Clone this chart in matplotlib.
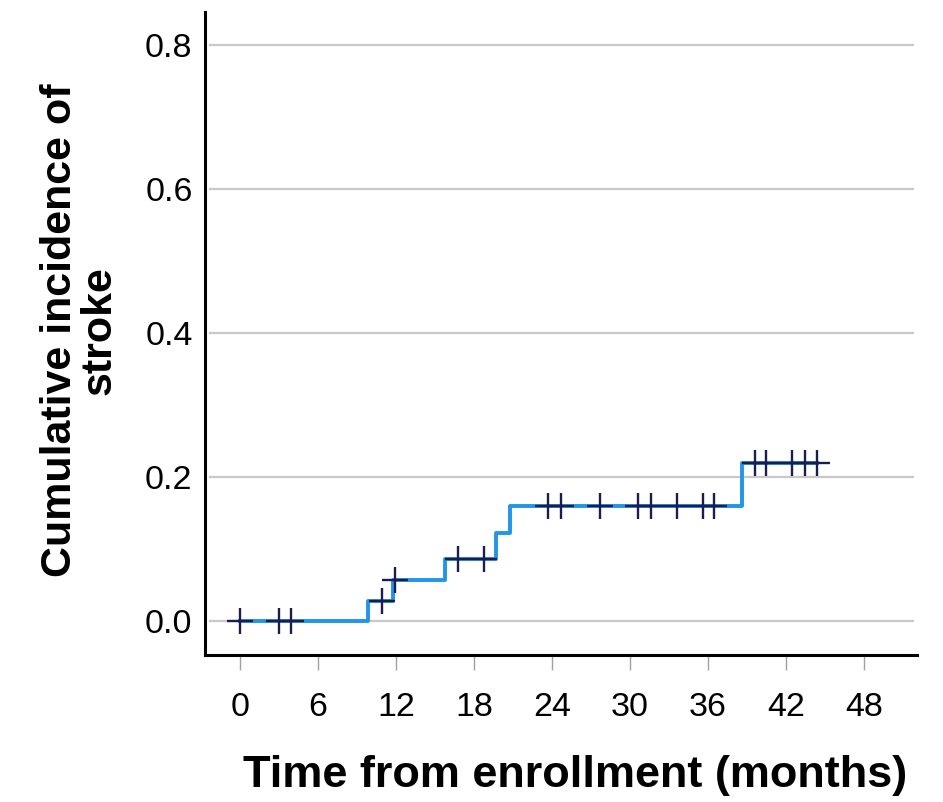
import numpy as np
import matplotlib
matplotlib.use("Agg")
import matplotlib.pyplot as plt

plt.rcParams["font.family"] = ["Liberation Sans", "DejaVu Sans"]

# step curve: event times (months) and cumulative incidence after each step
step_times = [0, 9.85, 11.8, 15.8, 19.7, 20.8, 38.6]
step_values = [0.0, 0.028, 0.057, 0.086, 0.122, 0.160, 0.220]
last_followup = 44.4

# censored observations
censor_times = [0, 3.0, 3.9, 10.9, 11.9, 16.8, 18.8, 23.7, 24.7, 27.7,
                30.6, 31.6, 33.6, 35.6, 36.5, 39.6, 40.5, 42.5, 43.5, 44.4]

x_ticks = [0, 6, 12, 18, 24, 30, 36, 42, 48]
y_ticks = [0.0, 0.2, 0.4, 0.6, 0.8]


def value_at(t):
    idx = np.searchsorted(step_times, t, side="right") - 1
    return step_values[idx]


fig = plt.figure(figsize=(9.43, 8.02), dpi=100)
ax = fig.add_axes([0.2174, 0.1833, 0.755, 0.8017])

xs = step_times + [last_followup]
ys = step_values + [step_values[-1]]
ax.step(xs, ys, where="post", color="#2196e8", lw=2.8, zorder=3)

censor_vals = [value_at(t) for t in censor_times]
ax.plot(censor_times, censor_vals, ls="none", marker="+", ms=19, mew=1.7,
        color="#1c1c4e", zorder=4)

ax.set_xlim(-2.7, 52.1)
ax.set_ylim(-0.047, 0.846)
ax.set_xticks(x_ticks)
ax.set_yticks(y_ticks)
ax.set_yticklabels([f"{v:.1f}" for v in y_ticks])

for v in y_ticks:
    ax.axhline(v, xmin=0.007, xmax=0.995, color="#c8c8c8", lw=1.6, zorder=1)

for s in ["top", "right"]:
    ax.spines[s].set_visible(False)
for s in ["left", "bottom"]:
    ax.spines[s].set_linewidth(2.2)
    ax.spines[s].set_color("black")

ax.tick_params(axis="y", length=0, pad=9, labelsize=24.5)
ax.tick_params(axis="x", length=11, width=1, color="#a0a0a0", pad=16, labelsize=24.5)

ax.set_xlabel("Time from enrollment (months)", fontsize=32.5, fontweight="bold")
ax.xaxis.set_label_coords(0.52, -0.155)
ax.set_ylabel("Cumulative incidence of\nstroke", fontsize=31, fontweight="bold",
              linespacing=1.0)
ax.yaxis.set_label_coords(-0.12, 0.505)

fig.savefig("out.png", dpi=100)
